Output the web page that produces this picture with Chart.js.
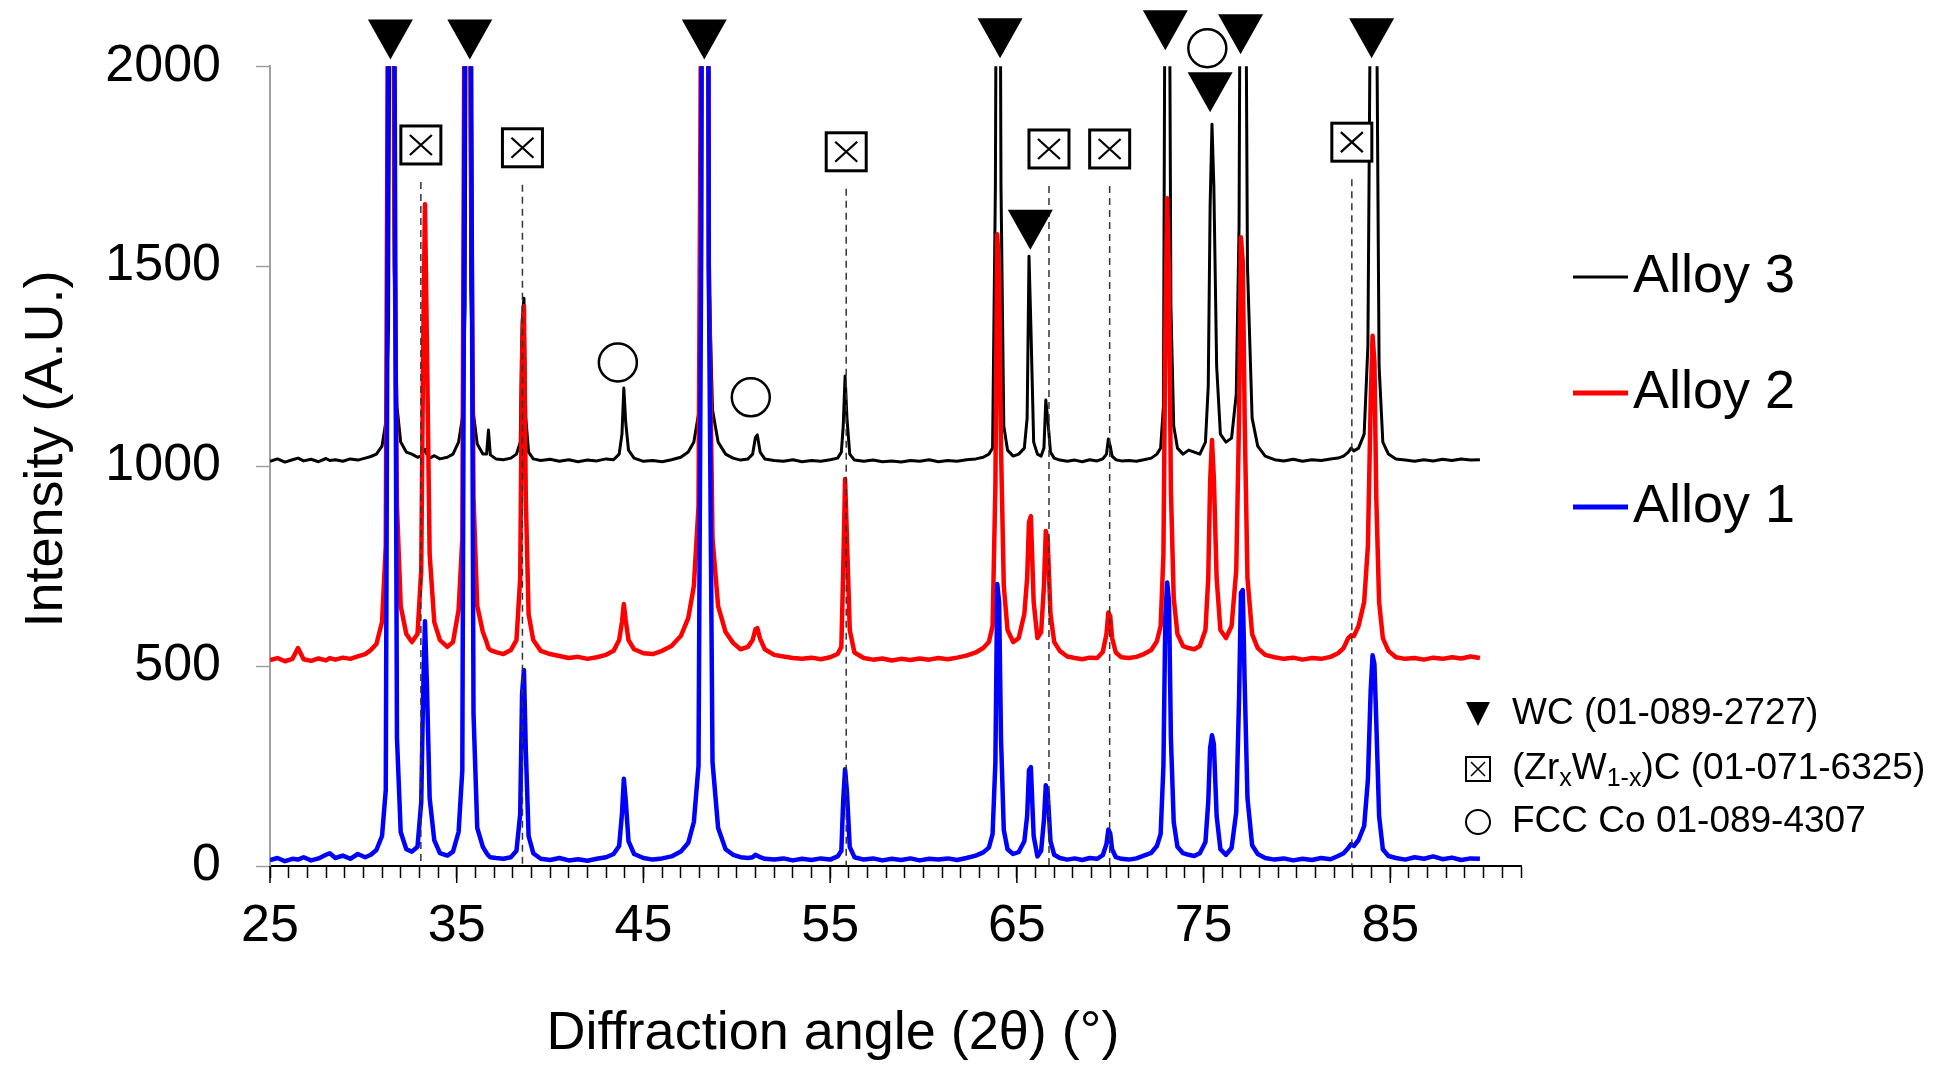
<!DOCTYPE html>
<html>
<head>
<meta charset="utf-8">
<script src="https://cdn.jsdelivr.net/npm/chart.js@4.4.1/dist/chart.umd.min.js"></script>
<style>
  html, body { margin: 0; padding: 0; background: #fff; }
  #wrap { width: 1954px; height: 1066px; }
</style>
</head>
<body>
<div id="wrap"><canvas id="xrd" width="1954" height="1066"></canvas></div>
<script>
// 2-theta grid (deg), shared by the three patterns
var twoTheta = [
  25.0, 25.4, 25.8, 26.2, 26.5, 26.8, 27.2, 27.6, 28.0, 28.2, 28.5, 28.9, 29.3, 29.7, 30.1, 30.4, 30.7,
  31.0, 31.2, 31.35, 31.45, 31.55, 31.65, 31.8, 32.0, 32.3,
  32.6, 32.9, 33.1, 33.2, 33.3, 33.4, 33.55, 33.8, 34.1, 34.5, 34.8,
  35.1, 35.3, 35.45, 35.55, 35.65, 35.75, 35.9, 36.1, 36.4,
  36.6, 36.7, 36.8, 37.1, 37.5, 37.9, 38.2, 38.4, 38.5, 38.6, 38.7, 38.85, 39.1,
  39.5, 40.0, 40.5, 41.0, 41.5, 42.0, 42.5, 43.0, 43.4, 43.7, 43.85, 43.95, 44.05, 44.2, 44.5,
  45.0, 45.5, 46.0, 46.5, 47.0, 47.4, 47.7, 47.95, 48.1, 48.2, 48.3, 48.4, 48.5, 48.7, 49.0, 49.4,
  49.8, 50.2, 50.6, 50.85, 51.0, 51.1, 51.25, 51.5,
  52.0, 52.5, 53.0, 53.5, 54.0, 54.5, 55.0, 55.4, 55.6, 55.7, 55.8, 55.9, 56.05, 56.3,
  56.8, 57.3, 57.8, 58.3, 58.8, 59.3, 59.8, 60.3, 60.8, 61.3, 61.8, 62.3, 62.8, 63.2, 63.5, 63.7,
  63.85, 63.95, 64.05, 64.15, 64.3, 64.5, 64.8, 65.1, 65.4,
  65.55, 65.65, 65.75, 65.9, 66.1, 66.3, 66.45, 66.55, 66.65, 66.8, 67.0, 67.3,
  67.7, 68.1, 68.5, 68.9, 69.3, 69.6, 69.8, 69.9, 70.0, 70.1, 70.3, 70.6,
  71.0, 71.4, 71.8, 72.2, 72.5, 72.7, 72.85, 72.95, 73.05, 73.15, 73.25, 73.4, 73.6, 73.9, 74.2,
  74.5, 74.8, 75.1, 75.25, 75.35, 75.45, 75.55, 75.7, 75.9, 76.2,
  76.5, 76.75, 76.9, 77.0, 77.1, 77.2, 77.35, 77.6, 77.9,
  78.3, 78.8, 79.3, 79.8, 80.3, 80.8, 81.3, 81.8, 82.2, 82.5, 82.75, 82.9, 83.05, 83.3,
  83.6, 83.8, 83.95, 84.05, 84.15, 84.25, 84.4, 84.6, 84.9,
  85.3, 85.8, 86.3, 86.8, 87.3, 87.8, 88.3, 88.8, 89.3, 89.8
];

// intensities (A.U.), patterns are offset by ~500
var alloy3 = [
  1012, 1018, 1010, 1016, 1020, 1013, 1017, 1011, 1019, 1014, 1016, 1012, 1018, 1015, 1020, 1024, 1030,
  1050, 1110, 1350, 2600, 2600, 1500, 1150, 1060, 1035,
  1030, 1022, 1025, 1035, 1042, 1030, 1020, 1026, 1018, 1022, 1030,
  1060, 1120, 1400, 2700, 2700, 1450, 1130, 1055, 1030,
  1030, 1090, 1028, 1018, 1016, 1020, 1030, 1060, 1360, 1420, 1120, 1035, 1018,
  1014, 1017, 1012, 1016, 1011, 1015, 1013, 1018, 1016, 1030, 1080, 1195, 1110, 1040, 1020,
  1012, 1014, 1011, 1016, 1022, 1035, 1060, 1130, 1500, 2800, 3500, 2800, 1500, 1140, 1060, 1030,
  1020, 1015, 1018, 1030, 1072, 1078, 1035, 1018,
  1014, 1012, 1016, 1011, 1014, 1012, 1016, 1020, 1035, 1100, 1225, 1120, 1030, 1015,
  1012, 1015, 1011, 1013, 1010, 1014, 1012, 1016, 1011, 1014, 1012, 1016, 1018, 1022, 1030, 1045,
  1700, 3000, 3000, 1700, 1100, 1040, 1025, 1030, 1045,
  1120, 1525, 1350, 1060, 1030, 1025, 1045, 1165, 1120, 1035, 1020, 1015,
  1012, 1015, 1011, 1016, 1013, 1018, 1030, 1068, 1050, 1025, 1016, 1013,
  1014, 1012, 1016, 1020, 1030, 1045, 1150, 2500, 3200, 2500, 1400, 1100, 1045, 1030, 1040,
  1035, 1030, 1060, 1200, 1650, 1855, 1700, 1250, 1080, 1060,
  1070, 1180, 1600, 2800, 3300, 2800, 1500, 1120, 1050,
  1025, 1016, 1013, 1017, 1012, 1016, 1014, 1018, 1020, 1025, 1035, 1045, 1038, 1045,
  1080, 1300, 2300, 3200, 3200, 2300, 1250, 1060, 1030,
  1018, 1015, 1012, 1016, 1013, 1017, 1014, 1018, 1015, 1016
];
var alloy2 = [
  515, 520, 512, 518, 545, 517, 513, 519, 514, 520, 516, 521, 518, 524, 530, 540, 555,
  610, 800, 2600, 4800, 4800, 1700, 900, 650, 580,
  560, 580, 740, 1280, 1655, 1320, 780, 610, 565, 548, 560,
  640, 820, 2600, 4900, 4800, 1900, 920, 650, 585,
  560, 545, 540, 535, 530, 540, 565, 720, 1270, 1400, 920, 630, 565,
  538, 530, 525, 520, 523, 518, 522, 528, 538, 565, 610, 655, 615, 565, 542,
  532, 530, 538, 550, 575, 620, 700, 900, 2300, 4200, 5000, 3800, 1500, 820, 650, 585,
  558, 542, 548, 565, 592, 595, 568, 542,
  528, 524, 520, 518, 521, 517, 522, 530, 548, 740, 968, 820, 590, 534,
  520, 516, 519, 514, 518, 515, 519, 516, 520, 517, 521, 526, 534, 545, 560, 600,
  950, 1580, 1470, 1050, 700, 590, 560, 570, 630,
  720, 860, 875, 660, 570, 585, 700, 838, 815, 630, 560, 538,
  524, 520, 517, 521, 520, 535, 580, 634, 625, 570, 534, 522,
  520, 523, 530, 540, 562, 600, 780, 1320, 1670, 1470, 940, 670, 580, 550, 545,
  542, 550, 590, 720, 960, 1065, 970, 720, 590, 570,
  600, 740, 1120, 1572, 1510, 1120, 720, 580, 545,
  528, 522, 518, 521, 516, 520, 518, 523, 532, 545, 570, 577, 575, 600,
  660, 800, 1160, 1326, 1260, 920, 660, 570, 538,
  522, 518, 520, 516, 521, 518, 522, 519, 524, 520
];
var alloy1 = [
  15, 20, 12, 18, 16, 22, 14, 19, 28, 32, 20, 26, 18, 30, 22, 28, 40,
  75, 190, 2300, 5000, 5000, 2300, 320, 85, 42,
  36, 48, 160, 430, 612, 460, 170, 64, 32, 26, 36,
  85, 240, 2300, 5000, 5000, 2300, 380, 95, 48,
  32, 26, 22, 20, 18, 22, 38, 130, 430, 490, 290, 75, 32,
  18, 15, 20, 14, 17, 13, 18, 22, 30, 50, 130, 218, 165, 62, 30,
  20, 16, 19, 24, 36, 58, 110, 250, 1600, 4500, 5200, 4500, 1500, 260, 95, 42,
  28, 22, 20, 22, 28, 26, 22, 18,
  16, 19, 14, 18, 15, 19, 16, 24, 38, 165, 242, 185, 48, 22,
  16, 19, 14, 18, 15, 19, 14, 18, 16, 19, 15, 20, 26, 34, 46, 80,
  260, 705, 660, 320, 90, 42, 30, 35, 62,
  125, 240, 247, 75, 24, 38, 115, 202, 185, 62, 28, 20,
  16, 19, 15, 20, 18, 27, 55, 91, 82, 42, 22, 18,
  16, 19, 26, 33, 50, 80, 250, 620, 709, 660, 320, 110, 48, 32, 28,
  25, 32, 60, 160, 295, 327, 305, 125, 42, 28,
  45, 135, 420, 683, 690, 460, 170, 52, 30,
  20, 16, 19, 14, 18, 15, 20, 17, 25, 32, 45, 55, 50, 65,
  100, 215, 440, 527, 505, 360, 125, 42, 25,
  20, 16, 22, 18, 24, 17, 21, 15, 19, 18
];

var xTicks = [25, 35, 45, 55, 65, 75, 85];
var yTicks = [0, 500, 1000, 1500, 2000];

// reflection markers [2theta, intensity where the marker sits]
var wcMarks = [[31.45, 2017], [35.7, 2017], [48.26, 2017], [64.1, 2020], [72.95, 2040],
               [76.98, 2030], [84.0, 2020], [65.72, 1541], [75.35, 1885]];
var zrwcMarks = [[33.08, 1803], [38.52, 1796], [55.86, 1786], [66.72, 1793], [69.97, 1793], [82.94, 1810]];
var coMarks = [[43.63, 1259], [50.75, 1172], [75.2, 2045]];

[alloy1, alloy2, alloy3].forEach(function (s) {
  if (s.length !== twoTheta.length) throw new Error('series length ' + s.length + ' vs ' + twoTheta.length);
});

function pts(vals) {
  return twoTheta.map(function (t, i) { return { x: t, y: vals[i] }; });
}

var FONT = '"Liberation Sans", Arial, sans-serif';
Chart.defaults.font.family = FONT;
Chart.defaults.color = '#000';

function tri(ctx, x, y, w, h) {
  ctx.beginPath();
  ctx.moveTo(x - w / 2, y - h);
  ctx.lineTo(x + w / 2, y - h);
  ctx.lineTo(x, y);
  ctx.closePath();
  ctx.fill();
}
function xbox(ctx, x, y, w, h, lw, inset) {
  ctx.fillStyle = '#fff';
  ctx.fillRect(x - w / 2, y - h / 2, w, h);
  ctx.lineWidth = lw;
  ctx.strokeRect(x - w / 2, y - h / 2, w, h);
  ctx.lineWidth = lw * 0.75;
  ctx.beginPath();
  ctx.moveTo(x - w / 2 + inset, y - h / 2 + inset);
  ctx.lineTo(x + w / 2 - inset, y + h / 2 - inset);
  ctx.moveTo(x + w / 2 - inset, y - h / 2 + inset);
  ctx.lineTo(x - w / 2 + inset, y + h / 2 - inset);
  ctx.stroke();
}
function ring(ctx, x, y, r, lw) {
  ctx.beginPath();
  ctx.arc(x, y, r, 0, Math.PI * 2);
  ctx.fillStyle = '#fff';
  ctx.fill();
  ctx.lineWidth = lw;
  ctx.stroke();
}

var markers = {
  id: 'markers',
  afterDatasetsDraw: function (chart) {
    var ctx = chart.ctx, xs = chart.scales.x, ys = chart.scales.y;
    ctx.save();
    ctx.strokeStyle = '#333';
    ctx.lineWidth = 1.5;
    ctx.setLineDash([7, 5]);
    zrwcMarks.forEach(function (m) {
      var px = xs.getPixelForValue(m[0]);
      ctx.beginPath();
      ctx.moveTo(px, ys.getPixelForValue(m[1]) + 37);
      ctx.lineTo(px, ys.getPixelForValue(0));
      ctx.stroke();
    });
    ctx.setLineDash([]);
    ctx.strokeStyle = '#000';
    wcMarks.forEach(function (m) {
      ctx.fillStyle = '#000';
      tri(ctx, xs.getPixelForValue(m[0]), ys.getPixelForValue(m[1]), 45, 40);
    });
    zrwcMarks.forEach(function (m) {
      xbox(ctx, xs.getPixelForValue(m[0]), ys.getPixelForValue(m[1]), 40, 38, 3, 9);
    });
    coMarks.forEach(function (m) {
      ring(ctx, xs.getPixelForValue(m[0]), ys.getPixelForValue(m[1]), 19, 2.5);
    });
    ctx.restore();
  },
  afterDraw: function (chart) {
    var ctx = chart.ctx, xs = chart.scales.x, ys = chart.scales.y;
    ctx.save();
    // longer major ticks on the 2theta axis
    ctx.strokeStyle = '#000';
    ctx.lineWidth = 1.5;
    xTicks.forEach(function (v) {
      var px = xs.getPixelForValue(v);
      ctx.beginPath();
      ctx.moveTo(px, ys.bottom);
      ctx.lineTo(px, ys.bottom + 17);
      ctx.stroke();
    });

    // axis titles
    ctx.fillStyle = '#000';
    ctx.font = '54px ' + FONT;
    ctx.textAlign = 'center';
    ctx.textBaseline = 'middle';
    ctx.fillText('Diffraction angle (2\u03b8) (\u00b0)', 833, 1034);
    ctx.save();
    ctx.translate(47, 449);
    ctx.rotate(-Math.PI / 2);
    ctx.fillText('Intensity (A.U.)', 0, 0);
    ctx.restore();

    // series legend
    var rows = [[0, 277, 3], [1, 393, 5], [2, 507, 5]];
    ctx.textAlign = 'left';
    rows.forEach(function (r) {
      var ds = chart.data.datasets[r[0]];
      ctx.strokeStyle = ds.borderColor;
      ctx.lineWidth = r[2];
      ctx.beginPath();
      ctx.moveTo(1573, r[1]);
      ctx.lineTo(1628, r[1]);
      ctx.stroke();
      ctx.fillStyle = '#000';
      ctx.fillText(ds.label, 1633, r[1]);
    });

    // phase legend
    ctx.strokeStyle = '#000';
    ctx.fillStyle = '#000';
    tri(ctx, 1478, 726, 24, 24);
    xbox(ctx, 1478, 769, 24, 24, 2, 5);
    ring(ctx, 1478, 822, 12, 2);
    ctx.fillStyle = '#000';
    var big = '37px ' + FONT, small = '25px ' + FONT;
    ctx.font = big;
    ctx.fillText('WC (01-089-2727)', 1512, 714);
    ctx.fillText('FCC Co 01-089-4307', 1512, 822);
    var runs = [['(Zr', 0], ['x', 1], ['W', 0], ['1-x', 1], [')C (01-071-6325)', 0]];
    var cx = 1512;
    runs.forEach(function (r) {
      ctx.font = r[1] ? small : big;
      ctx.fillText(r[0], cx, 769 + (r[1] ? 10 : 0));
      cx += ctx.measureText(r[0]).width;
    });
    ctx.restore();
  }
};

new Chart(document.getElementById('xrd').getContext('2d'), {
  type: 'line',
  data: {
    datasets: [
      { label: 'Alloy 3', data: pts(alloy3), borderColor: '#000000', borderWidth: 3, order: 3 },
      { label: 'Alloy 2', data: pts(alloy2), borderColor: '#ff0000', borderWidth: 4.5, order: 2 },
      { label: 'Alloy 1', data: pts(alloy1), borderColor: '#0000ff', borderWidth: 4.5, order: 1 }
    ]
  },
  options: {
    responsive: false,
    animation: false,
    layout: { padding: { left: 0, top: 64, right: 433, bottom: 0 } },
    elements: { point: { radius: 0 }, line: { tension: 0, borderJoinStyle: 'round' } },
    datasets: { line: { clip: 0 } },
    plugins: { legend: { display: false }, tooltip: { enabled: false } },
    scales: {
      x: {
        type: 'linear', min: 25, max: 92,
        border: { color: '#000', width: 2 },
        grid: { drawOnChartArea: false, tickLength: 12, tickColor: '#000', tickWidth: 1.5 },
        ticks: {
          stepSize: 1, autoSkip: false, maxRotation: 0, padding: 17, font: { size: 52 },
          callback: function (v) { return xTicks.indexOf(v) >= 0 ? String(v) : ''; }
        },
        afterFit: function (s) { s.height = 200; }
      },
      y: {
        min: 0, max: 2000,
        border: { color: '#a0a0a0', width: 2 },
        grid: { drawOnChartArea: false, tickLength: 14, tickColor: '#a0a0a0', tickWidth: 1.5 },
        ticks: {
          stepSize: 500, padding: 35, font: { size: 52 },
          callback: function (v) { return yTicks.indexOf(v) >= 0 ? String(v) : ''; }
        },
        afterFit: function (s) { s.width = 270; }
      }
    }
  },
  plugins: [markers]
});
</script>
</body>
</html>
